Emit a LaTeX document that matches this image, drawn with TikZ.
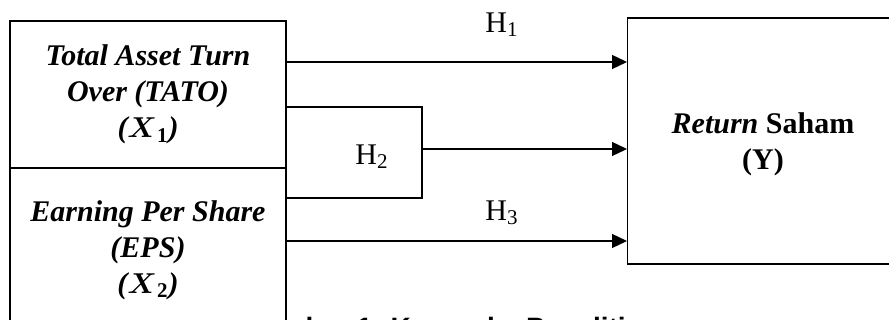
\documentclass[tikz,border=0pt]{standalone}
\usepackage{fontspec}
\usepackage{amsmath}
\usepackage{amssymb}
\setmainfont{Liberation Serif}
\setsansfont{Liberation Sans}
\usetikzlibrary{arrows.meta, positioning, calc}

\begin{document}
\begin{tikzpicture}[x=0.5pt,y=-0.5pt,
    varbox/.style={draw,fill=white,line width=0.7pt,align=center,
        font=\fontsize{15}{18}\selectfont\bfseries\itshape},
    arr/.style={-{Triangle[length=7.5pt,width=7pt]},line width=0.65pt},
    hyp/.style={font=\fontsize{15}{18}\selectfont}]
    \useasboundingbox (0,0) rectangle (889,320);
    \clip (0,0) rectangle (889,320);
    % caption, partly hidden behind the left boxes
    \node[anchor=base west,inner sep=0pt,font=\sffamily\bfseries\fontsize{14}{16}\selectfont] (cap) at (243,337) {Gambar 1. Kerangka Penelitian};
    % variables
    \node[varbox,minimum width=138pt,minimum height=73.5pt] (tato) at (148,94.5)
        {Total Asset Turn\\Over (TATO)\\($\boldsymbol{X}_{\mathbf{1}}$)};
    \node[varbox,minimum width=138pt,minimum height=82pt] (eps) at (148,250)
        {Earning Per Share\\(EPS)\\($\boldsymbol{X}_{\mathbf{2}}$)};
    \node[varbox,anchor=west,minimum width=200pt,minimum height=123pt] (retbox) at (627,141) {};
    \node[align=center,font=\fontsize{15}{18}\selectfont\bfseries] (ret) at (763,144)
        {\textit{Return} Saham\\(Y)};
    % hypotheses
    \draw[arr] (tato.east |- 0,62) -- (retbox.west |- 0,62);
    \node[hyp] (h1) at (502,25) {H\textsubscript{1}};
    \coordinate (br) at (422,149);
    \draw[line width=0.65pt] (tato.east |- 0,107) -- (br |- 0,107) -- (br |- 0,198) -- (eps.east |- 0,198);
    \draw[arr] (br) -- (retbox.west |- br);
    \node[hyp] (h2) at (372,157) {H\textsubscript{2}};
    \draw[arr] (eps.east |- 0,241) -- (retbox.west |- 0,241);
    \node[hyp] (h3) at (502,213) {H\textsubscript{3}};
\end{tikzpicture}
\end{document}
